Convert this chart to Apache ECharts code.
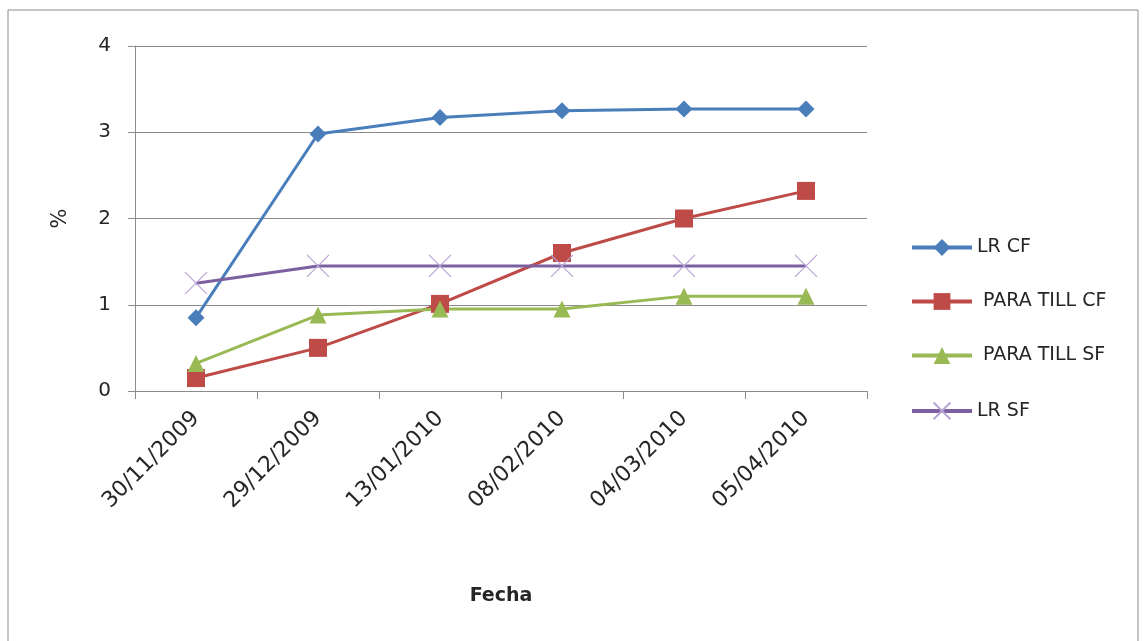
<!DOCTYPE html>
<html>
<head>
<meta charset="utf-8">
<script src="https://cdn.jsdelivr.net/npm/echarts@6/dist/echarts.min.js"></script>
<style>
  html, body { margin: 0; padding: 0; background: #fff; }
  #chart { width: 1146px; height: 641px; }
</style>
</head>
<body>
<div id="chart"></div>
<script>
const fechas = ['30/11/2009', '29/12/2009', '13/01/2010', '08/02/2010', '04/03/2010', '05/04/2010']
const lrCf = [0.85, 2.98, 3.17, 3.25, 3.27, 3.27]
const paraTillCf = [0.15, 0.5, 1.01, 1.6, 2.0, 2.32]
const paraTillSf = [0.32, 0.88, 0.95, 0.95, 1.1, 1.1]
const lrSf = [1.25, 1.45, 1.45, 1.45, 1.45, 1.45]
const yTicks = [0, 1, 2, 3, 4]

const font = '"DejaVu Sans", "Noto Sans", sans-serif'
const chart = echarts.init(document.getElementById('chart'))

function serie(name, data, color, symbol, size) {
  return {
    name: name,
    type: 'line',
    data: data,
    symbol: symbol,
    symbolSize: size,
    lineStyle: { color: color, width: 3 },
    itemStyle: { color: color },
    emphasis: { disabled: true },
    z: 3
  }
}

// cruz de la serie LR SF
const crossPath = 'path://M0,0L10,10M10,0L0,10'

chart.setOption({
  animation: false,
  graphic: [{
    type: 'rect',
    shape: { x: 8, y: 10, width: 1130, height: 640 },
    style: { fill: 'none', stroke: '#8c8c8c', lineWidth: 1 },
    silent: true
  }],
  grid: { left: 135, right: 279, top: 46, bottom: 250 },
  legend: {
    orient: 'vertical',
    left: 905,
    top: 233,
    itemGap: 35,
    itemWidth: 60,
    itemHeight: 21,
    lineStyle: { width: 4 },
    textStyle: { fontFamily: font, fontSize: 19, color: '#262626' },
    data: ['LR CF', ' PARA TILL CF', ' PARA TILL SF', 'LR SF']
  },
  xAxis: {
    type: 'category',
    data: fechas,
    boundaryGap: true,
    name: 'Fecha',
    nameLocation: 'middle',
    nameGap: 196,
    nameTextStyle: { fontFamily: font, fontSize: 19, fontWeight: 'bold', color: '#262626' },
    axisLine: { lineStyle: { color: '#8c8c8c', width: 1 } },
    axisTick: { show: true, length: 8, lineStyle: { color: '#8c8c8c' } },
    axisLabel: { rotate: 45, fontFamily: font, fontSize: 22, color: '#262626', margin: 24 },
    splitLine: { show: false }
  },
  yAxis: {
    type: 'value',
    min: yTicks[0],
    max: yTicks[yTicks.length - 1],
    interval: 1,
    name: '%',
    nameLocation: 'middle',
    nameGap: 64,
    nameRotate: 90,
    nameTextStyle: { fontFamily: font, fontSize: 21, color: '#262626' },
    axisLine: { show: true, lineStyle: { color: '#8c8c8c' } },
    axisTick: { show: true, length: 7, lineStyle: { color: '#8c8c8c' } },
    axisLabel: { fontFamily: font, fontSize: 20, color: '#262626', margin: 24 },
    splitLine: { lineStyle: { color: '#8c8c8c', width: 1 } }
  },
  series: [
    serie('LR CF', lrCf, '#4a7ebb', 'diamond', 17),
    serie(' PARA TILL CF', paraTillCf, '#be4b48', 'rect', 18),
    serie(' PARA TILL SF', paraTillSf, '#98b954', 'triangle', 17),
    Object.assign(serie('LR SF', lrSf, '#7d60a0', crossPath, 22), {
      itemStyle: { color: 'none', borderColor: '#b9a4d6', borderWidth: 1.2 }
    })
  ]
})
</script>
</body>
</html>
